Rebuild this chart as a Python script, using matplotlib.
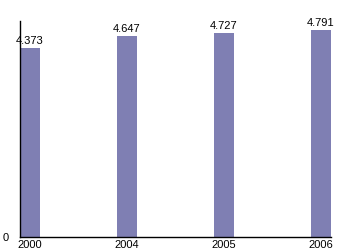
import matplotlib
matplotlib.use("Agg")
import matplotlib.pyplot as plt

years = ["2000", "2004", "2005", "2006"]
values = [4.373, 4.647, 4.727, 4.791]
labels = ["4.373", "4.647", "4.727", "4.791"]

plt.rcParams['font.family'] = ['Liberation Sans', 'DejaVu Sans']

fig = plt.figure(figsize=(3.5, 2.5), dpi=100)
ax = fig.add_axes([20/350, 13/250, 311/350, 216/250])
x = list(range(len(years)))
w = 0.206
bars = ax.bar(x, values, width=w, color="#7f7fb3")
for xi, v, lab in zip(x, values, labels):
    ax.text(xi, v + 0.05, lab, ha="center", va="bottom", fontsize=8)
ax.set_xlim(-w/2, 3 + w/2)
ax.set_ylim(0, 5)
ax.set_xticks(x)
ax.set_xticklabels(years, fontsize=8)
ax.set_yticks([0])
ax.set_yticklabels(["0"], fontsize=8)
ax.tick_params(axis="both", length=0)
ax.tick_params(axis="y", pad=8)
ax.tick_params(axis="x", pad=2)
for s in ["top", "right"]:
    ax.spines[s].set_visible(False)
for s in ["left", "bottom"]:
    ax.spines[s].set_linewidth(1.0)
    ax.spines[s].set_color("black")
fig.savefig("out.png", dpi=100)
